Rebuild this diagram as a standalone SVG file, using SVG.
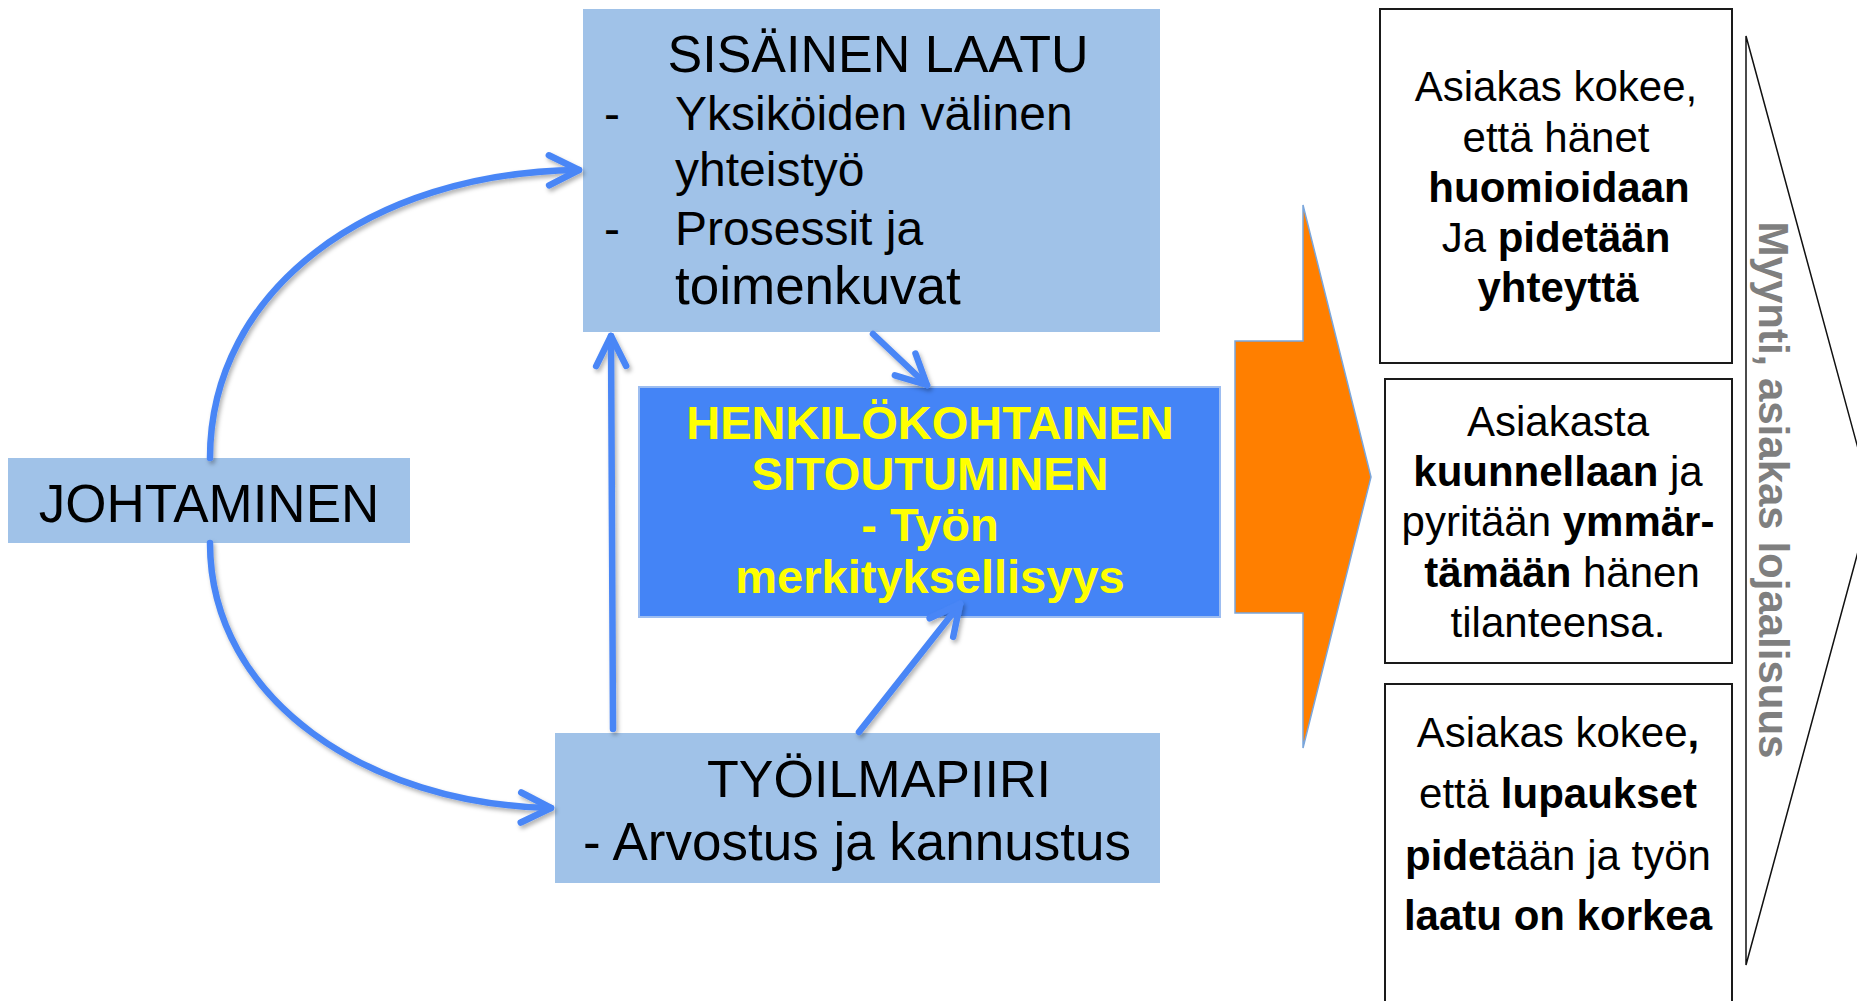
<svg xmlns="http://www.w3.org/2000/svg" width="1857" height="1001" viewBox="0 0 1857 1001">
<style>
.lb{fill:#a0c2e8}
.t{font-family:"Liberation Sans",Arial,sans-serif;fill:#000}
.b{font-weight:bold}
.y{font-family:"Liberation Sans",Arial,sans-serif;font-weight:bold;fill:#ffff00;font-size:47px;text-anchor:middle}
.c{fill:none;stroke:#4a86f6;stroke-width:6.5;stroke-linecap:round;stroke-linejoin:round}
.rb{fill:#fff;stroke:#1a1a1a;stroke-width:2}
.rt{font-family:"Liberation Sans",Arial,sans-serif;font-size:42px;text-anchor:middle;fill:#000}
</style>
<defs>
<filter id="sh" x="-10%" y="-10%" width="130%" height="130%">
<feDropShadow dx="2" dy="3" stdDeviation="2" flood-color="#000" flood-opacity="0.3"/>
</filter>
<marker id="ah" markerUnits="userSpaceOnUse" markerWidth="60" markerHeight="60" viewBox="-40 -30 60 60" refX="0" refY="0" orient="auto" overflow="visible">
<path d="M-30,-15 L0,0 L-30,15" fill="none" stroke="#4a86f6" stroke-width="6.5" stroke-linecap="round" stroke-linejoin="round"/>
</marker>
</defs>

<g id="sisainen-laatu">
<rect class="lb" x="583" y="9" width="577" height="323"/>
<text class="t" x="878" y="72" font-size="52" text-anchor="middle">SISÄINEN LAATU</text>
<text class="t" x="604" y="130" font-size="48">-</text>
<text class="t" x="675" y="130" font-size="48">Yksiköiden välinen</text>
<text class="t" x="675" y="186" font-size="48">yhteistyö</text>
<text class="t" x="604" y="245" font-size="48">-</text>
<text class="t" x="675" y="245" font-size="48">Prosessit ja</text>
<text class="t" x="675" y="304" font-size="53">toimenkuvat</text>
</g>

<g id="johtaminen">
<rect class="lb" x="8" y="458" width="402" height="85"/>
<text class="t" x="209" y="522" font-size="53" text-anchor="middle">JOHTAMINEN</text>
</g>

<g id="henkilokohtainen">
<rect x="639" y="387" width="581" height="230" fill="#4484f6" stroke="#9dbdf0" stroke-width="2"/>
<text class="y" x="930" y="439">HENKILÖKOHTAINEN</text>
<text class="y" x="930" y="490">SITOUTUMINEN</text>
<text class="y" x="930" y="541">- Työn</text>
<text class="y" x="930" y="593">merkityksellisyys</text>
</g>

<g id="tyoilmapiiri">
<rect class="lb" x="555" y="733" width="605" height="150"/>
<text class="t" x="879" y="797" font-size="52" text-anchor="middle">TYÖILMAPIIRI</text>
<text class="t" x="857" y="860" font-size="53" text-anchor="middle">- Arvostus ja kannustus</text>
</g>

<g id="connectors" filter="url(#sh)">
<path class="c" d="M210,458 C210,290 370,172 579,170" marker-end="url(#ah)"/>
<path class="c" d="M210,543 C210,700 370,805 551,808" marker-end="url(#ah)"/>
<path class="c" d="M613,729 L611,336" marker-end="url(#ah)"/>
<path class="c" d="M873,334 L927,385" marker-end="url(#ah)"/>
<path class="c" d="M859,732 L960,604" marker-end="url(#ah)"/>
</g>

<g id="big-arrow">
<path d="M1235,341 L1303,341 L1303,205 L1371,477 L1303,748 L1303,613 L1235,613 Z" fill="#ff7f00" stroke="#7aa6dc" stroke-width="1.5"/>
</g>

<g id="box-1">
<rect class="rb" x="1380" y="9" width="352" height="354"/>
<text class="rt" x="1556" y="101">Asiakas kokee,</text>
<text class="rt" x="1556" y="152">että hänet</text>
<text class="rt b" x="1559" y="202">huomioidaan</text>
<text class="rt" x="1556" y="252">Ja <tspan class="b">pidetään</tspan></text>
<text class="rt b" x="1558" y="302">yhteyttä</text>
</g>

<g id="box-2">
<rect class="rb" x="1385" y="379" width="347" height="284"/>
<text class="rt" x="1558" y="436">Asiakasta</text>
<text class="rt" x="1558" y="486"><tspan class="b">kuunnellaan</tspan> ja</text>
<text class="rt" x="1558" y="536">pyritään <tspan class="b">ymmär-</tspan></text>
<text class="rt" x="1562" y="587"><tspan class="b">tämään</tspan> hänen</text>
<text class="rt" x="1558" y="637">tilanteensa.</text>
</g>

<g id="box-3">
<rect class="rb" x="1385" y="684" width="347" height="330"/>
<text class="rt" x="1558" y="747">Asiakas kokee<tspan class="b">,</tspan></text>
<text class="rt" x="1558" y="808">että <tspan class="b">lupaukset</tspan></text>
<text class="rt" x="1558" y="870"><tspan class="b">pidet</tspan>ään ja työn</text>
<text class="rt b" x="1558" y="930">laatu on korkea</text>
</g>

<g id="loyalty">
<path d="M1872,500 L1746,36 L1746,965 Z" fill="none" stroke="#111" stroke-width="1.5"/>
<text transform="translate(1759,490) rotate(90)" font-family="Liberation Sans, Arial, sans-serif" font-weight="bold" font-size="42" fill="#7f7f7f" text-anchor="middle">Myynti, asiakas lojaalisuus</text>
</g>
</svg>
